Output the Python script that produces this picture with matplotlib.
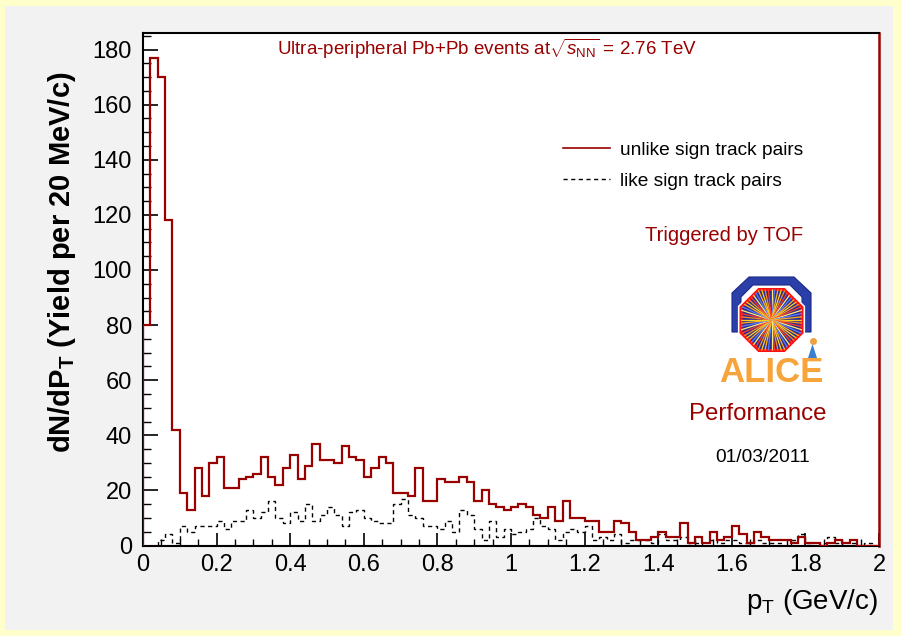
import numpy as np
import matplotlib
matplotlib.use("Agg")
import matplotlib.pyplot as plt
from matplotlib.patches import Polygon, Rectangle
from matplotlib.lines import Line2D
from matplotlib.ticker import MultipleLocator, FuncFormatter

plt.rcParams['font.family'] = ['Liberation Sans', 'DejaVu Sans']
plt.rcParams['mathtext.fontset'] = 'custom'
plt.rcParams['mathtext.rm'] = 'Liberation Sans'
plt.rcParams['mathtext.it'] = 'Liberation Sans:italic'
plt.rcParams['mathtext.bf'] = 'Liberation Sans:bold'

# 100 bins of 20 MeV/c between 0 and 2 GeV/c
n_bins = 100
pt_min, pt_max = 0.0, 2.0
pt_edges = np.linspace(pt_min, pt_max, n_bins + 1)

# unlike sign track pairs, counts per bin
unlike_sign = [80, 177, 170, 118, 42, 19, 13, 28, 18, 30,
               32, 21, 21, 24, 25, 26, 32, 25, 22, 28,
               33, 24, 29, 37, 31, 31, 30, 36, 32, 31,
               25, 28, 32, 30, 19, 19, 18, 28, 16, 16,
               24, 23, 23, 25, 23, 16, 20, 15, 14, 13,
               14, 15, 14, 11, 10, 14, 9, 16, 10, 10,
               9, 9, 5, 5, 9, 8, 5, 2, 2, 3,
               5, 3, 3, 8, 1, 3, 1, 5, 2, 3,
               7, 4, 1, 5, 3, 2, 2, 2, 1, 3,
               1, 1, 0, 1, 2, 1, 2, 0, 0, 0]

# like sign track pairs, counts per bin
like_sign = [0, 0, 2, 4, 1, 7, 5, 7, 7, 7,
             9, 6, 9, 9, 13, 10, 12, 16, 10, 8,
             12, 9, 15, 9, 11, 14, 11, 7, 12, 13,
             10, 9, 8, 8, 15, 17, 11, 10, 7, 7,
             6, 9, 5, 13, 11, 6, 2, 9, 3, 6,
             4, 5, 6, 10, 7, 6, 2, 5, 6, 5,
             7, 2, 3, 2, 4, 1, 2, 2, 2, 1,
             4, 2, 2, 3, 1, 1, 0, 2, 1, 2,
             2, 1, 1, 2, 1, 1, 1, 0, 2, 4,
             1, 0, 1, 3, 1, 0, 1, 0, 1, 0]

dark_red = '#990000'

W, H = 901, 636
fig = plt.figure(figsize=(W / 100, H / 100), dpi=100, facecolor='#ffffcc')
# grey canvas inside the yellow border
fig.patches.append(Rectangle((5 / W, 6 / H), 888 / W, 624 / H, transform=fig.transFigure,
                             facecolor='#f2f2f2', edgecolor='none', zorder=-10))

ax_left, ax_right = 143, 879
ax_top, ax_bottom = 33, 545.5
ax = fig.add_axes([ax_left / W, (H - ax_bottom) / H,
                   (ax_right - ax_left) / W, (ax_bottom - ax_top) / H])
ax.set_facecolor('white')

ax.axhline(0, color='red', lw=2.2, zorder=1)
ax.stairs(unlike_sign, pt_edges, color=dark_red, lw=1.6, zorder=3)
ax.stairs(like_sign, pt_edges, color='black', lw=1.0, linestyle=(0, (3, 2.5)), zorder=2)

ax.set_xlim(pt_min, pt_max)
ax.set_ylim(0, 186)

for side in ['left', 'top', 'bottom']:
    ax.spines[side].set_color('black')
    ax.spines[side].set_linewidth(1.5)
ax.spines['right'].set_color(dark_red)
ax.spines['right'].set_linewidth(1.8)

ax.xaxis.set_major_locator(MultipleLocator(0.2))
ax.xaxis.set_minor_locator(MultipleLocator(0.05))
ax.yaxis.set_major_locator(MultipleLocator(20))
ax.yaxis.set_minor_locator(MultipleLocator(5))
ax.xaxis.set_major_formatter(FuncFormatter(lambda v, p: '%g' % round(v, 2)))
ax.tick_params(axis='x', which='major', direction='in', length=9.5, width=1.2,
               labelsize=17, pad=6)
ax.tick_params(axis='x', which='minor', direction='in', length=5, width=1.0)
ax.tick_params(axis='y', which='major', direction='in', length=11, width=1.2,
               labelsize=17, pad=8)
ax.tick_params(axis='y', which='minor', direction='in', length=5.5, width=1.0)

fig.text(62 / W, 1 - 262 / H, r'dN/dP$_{\mathbf{T}}$ (Yield per 20 MeV/c)',
         rotation=90, ha='center', va='center', fontsize=21, fontweight='bold')
fig.text(878 / W, 1 - 602 / H, r'p$_{\mathrm{T}}$ (GeV/c)', ha='right', va='center',
         fontsize=20)

ax.text(0.468, 0.968, r'Ultra-peripheral Pb+Pb events at$\sqrt{s_{\mathrm{NN}}}$ = 2.76 TeV',
        transform=ax.transAxes, ha='center', va='center', fontsize=13.5, color=dark_red)

handles = [Line2D([], [], color=dark_red, lw=1.2),
           Line2D([], [], color='black', lw=1.0, linestyle=(0, (3, 2.5)))]
ax.legend(handles, ['unlike sign track pairs', 'like sign track pairs'],
          loc='center left', bbox_to_anchor=((563 - ax_left) / (ax_right - ax_left),
                                             (ax_bottom - 165.5) / (ax_bottom - ax_top)),
          frameon=False, fontsize=13.8, handlelength=2.45, handletextpad=0.5,
          labelspacing=0.7, borderpad=0, borderaxespad=0)

ax.text(0.789, 0.605, 'Triggered by TOF', transform=ax.transAxes, ha='center', va='center',
        fontsize=14.5, color=dark_red)
fig.text(758 / W, 1 - 414 / H, 'Performance', ha='center', va='center',
         fontsize=17.3, color=dark_red)
fig.text(763 / W, 1 - 458 / H, '01/03/2011', ha='center', va='center',
         fontsize=13.8, color='black')

# ALICE logo: blue arch, red octagon with a burst of tracks
lx0, ly0, lw_, lh_ = 728, 272, 100, 90
lax = fig.add_axes([lx0 / W, (H - ly0 - lh_) / H, lw_ / W, lh_ / H])
lax.set_xlim(0, lw_)
lax.set_ylim(lh_, 0)
lax.axis('off')
arch = Polygon([(4, 60), (4, 21), (21, 5), (66, 5), (83, 21), (83, 60),
                (74, 60), (74, 25), (62, 13), (25, 13), (13, 25), (13, 60)],
               closed=True, facecolor='#2a3fa8', edgecolor='#1a2a8a', lw=0.8)
lax.add_patch(arch)
cx, cy, r = 43.5, 48, 33
ang = np.deg2rad(22.5 + 45 * np.arange(8))
octo_pts = np.column_stack([cx + r * np.cos(ang), cy + r * np.sin(ang)])
lax.add_patch(Polygon(octo_pts, closed=True, facecolor='none', edgecolor='white', lw=4.5))
octo = Polygon(octo_pts, closed=True, facecolor='#2b2f8f', edgecolor='#ff1010', lw=2.2)
lax.add_patch(octo)
ray_colors = ['#ffd21f', '#ff8a1f', '#ff3a2a', '#ffe97a', '#5a7dff', '#ffb020']
for k, a in enumerate(np.linspace(0, 2 * np.pi, 60, endpoint=False)):
    ln = lax.plot([cx, cx + 35 * np.cos(a)], [cy, cy + 35 * np.sin(a)],
                  color=ray_colors[k % len(ray_colors)], lw=0.9)[0]
    ln.set_clip_path(octo)
lax.add_patch(Polygon([(80, 86), (84.5, 72), (89, 86)], closed=True, facecolor='#3a7fd0'))
lax.plot([84.5], [69], 'o', color='#f0a040', ms=4)
fig.text(771 / W, 1 - 372 / H, 'ALICE', ha='center', va='center', fontsize=25,
         fontweight='bold', color='#f7a43a')

fig.savefig('out.png', dpi=100, facecolor=fig.get_facecolor())
